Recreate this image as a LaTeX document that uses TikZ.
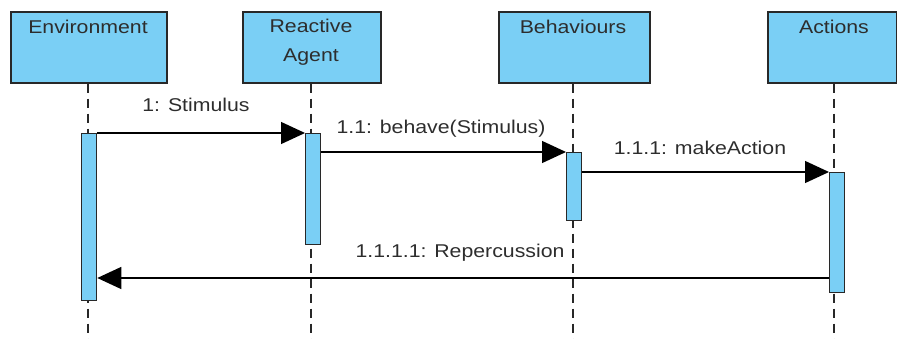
\documentclass[tikz,border=0pt]{standalone}
\usepackage{fontspec}
\setmainfont{Liberation Sans}[FakeStretch=1.15]
\usetikzlibrary{arrows.meta}
\definecolor{lifefill}{RGB}{122,207,245}
\definecolor{edgegray}{RGB}{40,40,40}
\definecolor{txtgray}{RGB}{45,45,45}
\begin{document}
\begin{tikzpicture}[x=1pt,y=-1pt,
  every node/.style={font=\fontsize{18.5}{29}\selectfont, text=txtgray, inner sep=0pt},
  headbox/.style={draw=edgegray, line width=1.6pt, fill=lifefill, anchor=north west},
  actbox/.style={draw=edgegray, line width=1.3pt, fill=lifefill, anchor=north west, minimum width=15pt},
  lifeline/.style={draw=edgegray, line width=1.2pt, dash pattern=on 9pt off 6pt},
  msg/.style={draw=black, line width=1.3pt, -{Triangle[length=24pt,width=22pt]}},
  lbl/.style={anchor=center}
]
\useasboundingbox (0,0) rectangle (897,339);
% head boxes
\node[headbox, minimum width=156pt, minimum height=71pt] (env) at (10,11) {};
\node[headbox, minimum width=138pt, minimum height=71pt] (ra) at (242,11) {};
\node[headbox, minimum width=151pt, minimum height=71pt] (beh) at (498,11) {};
\node[headbox, minimum width=129pt, minimum height=71pt] (act) at (767,11) {};
\node[lbl] (envt) at (88,27) {Environment};
\node[lbl, align=center] (rat) at (311,42) {Reactive\\Agent};
\node[lbl] (beht) at (573,27) {Behaviours};
\node[lbl] (actt) at (834,27) {Actions};
% lifeline bottoms
\coordinate (envb) at (88,339);
\coordinate (rab) at (311,339);
\coordinate (behb) at (573,339);
\coordinate (actb) at (834,339);
\draw[lifeline] (env.south -| envb) -- (envb);
\draw[lifeline] (ra.south -| rab) -- (rab);
\draw[lifeline] (beh.south -| behb) -- (behb);
\draw[lifeline] (act.south -| actb) -- (actb);
% activations
\node[actbox, minimum height=167pt] (enva) at (81,133) {};
\node[actbox, minimum height=111pt] (raa) at (305,133) {};
\node[actbox, minimum height=68pt] (beha) at (566,152) {};
\node[actbox, minimum height=120pt] (acta) at (829,172) {};
% messages
\coordinate (m2s) at (321,152);
\coordinate (m3s) at (582,172);
\coordinate (m4y) at (0,278);
\draw[msg] (enva.north east) -- (raa.north west);
\draw[msg] (m2s) -- (beha.north west);
\draw[msg] (m3s) -- (acta.north west);
\draw[msg] (acta.west |- m4y) -- (enva.east |- m4y);
% labels
\node[lbl] (l1) at (196,105) {1: Stimulus};
\node[lbl] (l2) at (441,129) {1.1: behave(Stimulus)};
\node[lbl] (l3) at (700,148) {1.1.1: makeAction};
\node[lbl] (l4) at (460,253) {1.1.1.1: Repercussion};
\end{tikzpicture}
\end{document}
